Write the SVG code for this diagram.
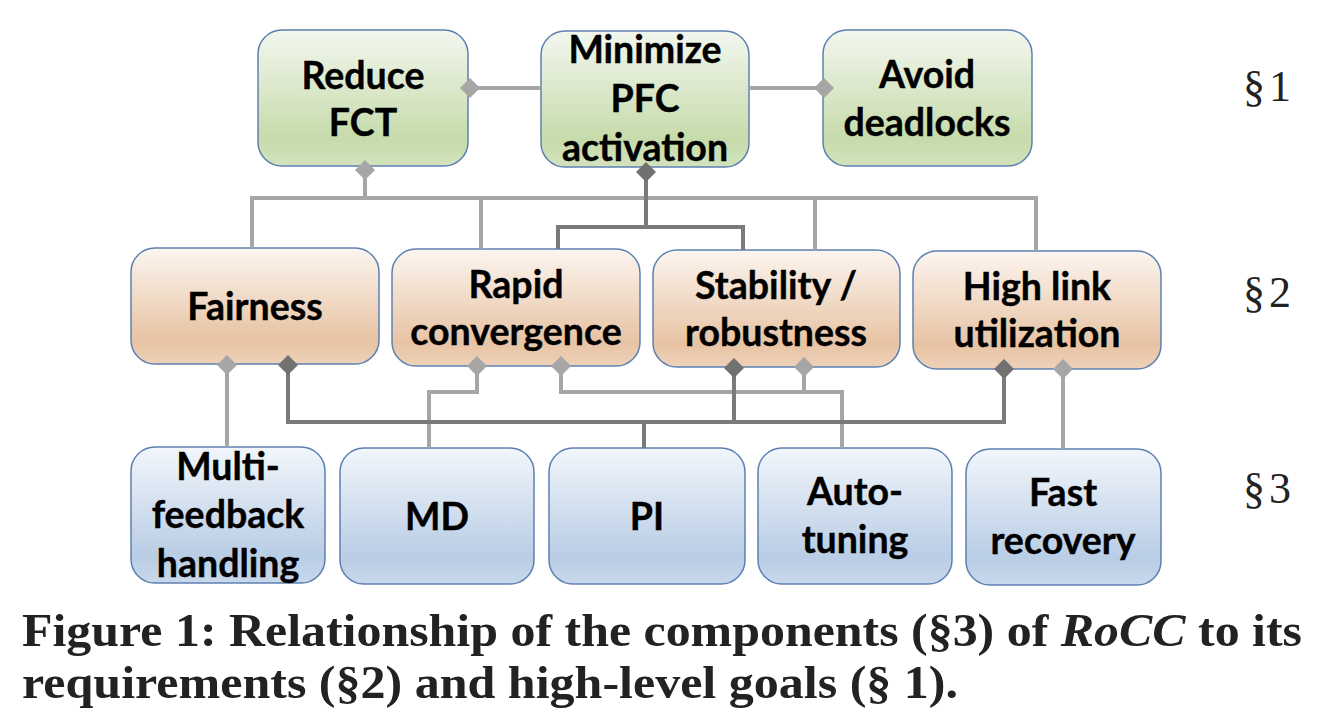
<svg xmlns="http://www.w3.org/2000/svg" width="1318" height="718" viewBox="0 0 1318 718">
<defs>
<linearGradient id="gGreen" x1="0" y1="0" x2="0" y2="1">
<stop offset="0" stop-color="#f3f7ef"/><stop offset="0.8" stop-color="#c6dbab"/><stop offset="1" stop-color="#d3e3bd"/>
</linearGradient>
<linearGradient id="gOrange" x1="0" y1="0" x2="0" y2="1">
<stop offset="0" stop-color="#fcf5f0"/><stop offset="0.8" stop-color="#e7c3a3"/><stop offset="1" stop-color="#eed2ba"/>
</linearGradient>
<linearGradient id="gBlue" x1="0" y1="0" x2="0" y2="1">
<stop offset="0" stop-color="#f2f6fb"/><stop offset="0.8" stop-color="#b9cde5"/><stop offset="1" stop-color="#c9d8eb"/>
</linearGradient>
<style>
.box{stroke:#5d80b2;stroke-width:1.5}
.g{fill:url(#gGreen)}
.o{fill:url(#gOrange)}
.b{fill:url(#gBlue)}
.t{font-family:Lato,"Liberation Sans",sans-serif;font-weight:bold;font-size:37.5px;fill:#000;text-anchor:middle;stroke:#000;stroke-width:0.4}
.lt{fill:none;stroke:#a6a6a6;stroke-width:4}
.dk{fill:none;stroke:#7a7a7a;stroke-width:4}
.dl{fill:#a6a6a6}
.dd{fill:#717171}
.sec{font-family:"Liberation Serif",serif;font-size:44px;fill:#222}
.cap{font-family:"Liberation Serif",serif;font-weight:bold;font-size:47px;fill:#222}
</style>
</defs>
<rect width="1318" height="718" fill="#fff"/>

<g id="reduce-fct"><rect class="box g" x="258" y="30" width="210" height="136" rx="24"/>
<text class="t" x="363" y="89">Reduce</text><text class="t" x="363" y="136">FCT</text></g>
<g id="minimize-pfc"><rect class="box g" x="541" y="31" width="208" height="136" rx="24"/>
<text class="t" x="645" y="63">Minimize</text><text class="t" x="645" y="112">PFC</text><text class="t" x="645" y="161">activation</text></g>
<g id="avoid-deadlocks"><rect class="box g" x="823" y="30" width="209" height="136" rx="24"/>
<text class="t" x="927" y="88">Avoid</text><text class="t" x="927" y="136">deadlocks</text></g>

<g id="fairness"><rect class="box o" x="131" y="248" width="248" height="116" rx="24"/>
<text class="t" x="255" y="320">Fairness</text></g>
<g id="rapid-convergence"><rect class="box o" x="392" y="249" width="248" height="117" rx="24"/>
<text class="t" x="516" y="298">Rapid</text><text class="t" x="516" y="345">convergence</text></g>
<g id="stability"><rect class="box o" x="653" y="250" width="247" height="117" rx="24"/>
<text class="t" x="776" y="299">Stability /</text><text class="t" x="776" y="346">robustness</text></g>
<g id="high-link"><rect class="box o" x="913" y="251" width="248" height="118" rx="24"/>
<text class="t" x="1037" y="300">High link</text><text class="t" x="1037" y="347">utilization</text></g>

<g id="multi-feedback"><rect class="box b" x="131" y="447" width="194" height="136" rx="24"/>
<text class="t" x="228" y="480">Multi-</text><text class="t" x="228" y="528">feedback</text><text class="t" x="228" y="577">handling</text></g>
<g id="md"><rect class="box b" x="340" y="448" width="194" height="136" rx="24"/>
<text class="t" x="437" y="530">MD</text></g>
<g id="pi"><rect class="box b" x="549" y="448" width="196" height="136" rx="24"/>
<text class="t" x="647" y="530">PI</text></g>
<g id="auto-tuning"><rect class="box b" x="758" y="448" width="194" height="136" rx="24"/>
<text class="t" x="855" y="505">Auto-</text><text class="t" x="855" y="553">tuning</text></g>
<g id="fast-recovery"><rect class="box b" x="966" y="449" width="195" height="136" rx="24"/>
<text class="t" x="1063" y="506">Fast</text><text class="t" x="1063" y="554">recovery</text></g>

<g id="connectors">
<path class="lt" d="M471 88 H541"/>
<path class="lt" d="M749 88 H823"/>
<path class="lt" d="M365 172 V198 M252 248 V198 H1036 V251 M481 198 V249 M815 198 V250"/>
<path class="dk" d="M646 172 V227 M558 249 V227 H743 V250"/>
<path class="lt" d="M227 365 V447"/>
<path class="lt" d="M477 366 V392 H429 V448"/>
<path class="lt" d="M561 366 V392 H842 V448 M804 367 V392"/>
<path class="lt" d="M1063 369 V449"/>
<path class="dk" d="M288 365 V422 H1004 V369 M734 367 V422 M644 422 V448"/>
<polygon class="dl" points="470,78 480,88 470,98 460,88"/>
<polygon class="dl" points="824,78 834,88 824,98 814,88"/>
<polygon class="dl" points="365,160 375,170 365,180 355,170"/>
<polygon class="dd" points="646,162 656,172 646,182 636,172"/>
<polygon class="dl" points="227,355 237,365 227,375 217,365"/>
<polygon class="dd" points="288,355 298,365 288,375 278,365"/>
<polygon class="dl" points="477,356 487,366 477,376 467,366"/>
<polygon class="dl" points="561,356 571,366 561,376 551,366"/>
<polygon class="dd" points="734,358 744,368 734,378 724,368"/>
<polygon class="dl" points="804,357 814,367 804,377 794,367"/>
<polygon class="dd" points="1004,359 1014,369 1004,379 994,369"/>
<polygon class="dl" points="1063,359 1073,369 1063,379 1053,369"/>
</g>

<g id="sections">
<text class="sec" x="1243" y="101" letter-spacing="4">§1</text>
<text class="sec" x="1243" y="307" letter-spacing="4">§2</text>
<text class="sec" x="1243" y="503" letter-spacing="4">§3</text>
</g>

<g id="caption">
<text class="cap" x="22" y="646" textLength="1280" lengthAdjust="spacingAndGlyphs">Figure 1: Relationship of the components (§3) of <tspan font-style="italic">RoCC</tspan> to its</text>
<text class="cap" x="22" y="698" textLength="936" lengthAdjust="spacingAndGlyphs">requirements (§2) and high-level goals (§ 1).</text>
</g>
</svg>
